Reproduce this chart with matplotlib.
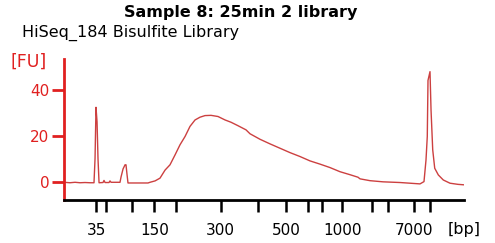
import matplotlib
matplotlib.use("Agg")
import matplotlib.pyplot as plt

# Migration time (s) vs fluorescence (FU)
time_s = [20.0, 20.75, 21.38, 22.0, 22.63, 23.25, 23.75, 23.88, 24.0, 24.13, 24.25, 24.38,
          24.88, 25.0, 25.13, 25.63, 25.75, 25.88, 27.0, 27.13, 27.38, 27.63, 27.75, 27.88,
          28.0, 29.5, 30.5, 30.75, 31.38, 32.0, 32.63, 33.25, 33.88, 34.5, 35.13, 35.75,
          36.38, 37.0, 37.63, 38.38, 39.25, 40.13, 40.88, 41.75, 42.75, 43.25, 44.5, 45.75,
          47.0, 48.25, 49.5, 50.75, 52.0, 53.25, 54.5, 55.75, 56.75, 57.0, 58.25, 59.88,
          62.0, 64.5, 65.0, 65.25, 65.41, 65.5, 65.75, 65.88, 66.09, 66.34, 66.79, 67.41,
          68.25, 69.25, 70.0]
fu = [-0.3, -0.5, -0.3, -0.5, -0.4, -0.5, -0.5, 10.0, 32.3, 26.0, 10.0, -0.5,
      -0.4, 0.5, -0.4, -0.4, 0.3, -0.3, -0.3, 2.0, 5.5, 7.3, 7.3, 3.0,
      -0.6, -0.6, -0.6, -0.3, 0.3, 1.5, 5.0, 7.3, 11.6, 16.0, 19.6, 24.0,
      26.8, 28.0, 28.7, 28.8, 28.3, 26.8, 25.8, 24.3, 22.5, 20.8, 18.4, 16.4,
      14.5, 12.6, 10.9, 9.0, 7.6, 6.1, 4.3, 3.0, 1.9, 1.2, 0.4, -0.1,
      -0.4, -1.0, 0.0, 9.4, 19.6, 44.0, 47.8, 31.0, 13.8, 5.8, 2.9, 0.7,
      -0.7, -1.2, -1.4]

ladder_time = [24.0, 25.25, 28.54, 31.29, 34.0, 39.59, 44.29, 47.75, 50.54, 52.29,
               54.79, 58.54, 60.54, 63.79, 65.75]
ladder_labels = ["35", "", "", "150", "", "300", "", "500", "", "",
                 "1000", "", "", "7000", ""]
y_ticks = [0, 20, 40]

red = "#e02020"
trace = "#cc4040"

fig = plt.figure(figsize=(4.95, 2.43), dpi=100)
ax = fig.add_axes([64/495, 1-200/243, 400/495, 141/243])
ax.plot(time_s, fu, color=trace, lw=1.0)
ax.set_xlim(20, 70)
ax.set_ylim(-8, 53.3)

for s in ["top", "right"]:
    ax.spines[s].set_visible(False)
ax.spines["left"].set_color(red)
ax.spines["left"].set_linewidth(2)
ax.spines["bottom"].set_color("black")
ax.spines["bottom"].set_linewidth(2)

ax.set_xticks(ladder_time)
ax.set_xticklabels(ladder_labels)
ax.set_yticks(y_ticks)
ax.tick_params(axis="y", colors=red, labelcolor=red, length=8.5, width=2, pad=2, labelsize=11)
ax.tick_params(axis="x", colors="black", length=8.5, width=1.8, pad=8, labelsize=11)

fig.text(241/495, 1-13/243, "Sample 8: 25min 2 library", ha="center", va="center",
         fontsize=11.5, fontweight="bold")
fig.text(22/495, 1-33/243, "HiSeq_184 Bisulfite Library", ha="left", va="center", fontsize=11.5)
fig.text(10/495, 1-62/243, "[FU]", ha="left", va="center", fontsize=12.5, color=red)
fig.text(448/495, 1-229/243, "[bp]", ha="left", va="center", fontsize=11.5)

fig.savefig("out.png", dpi=100)
